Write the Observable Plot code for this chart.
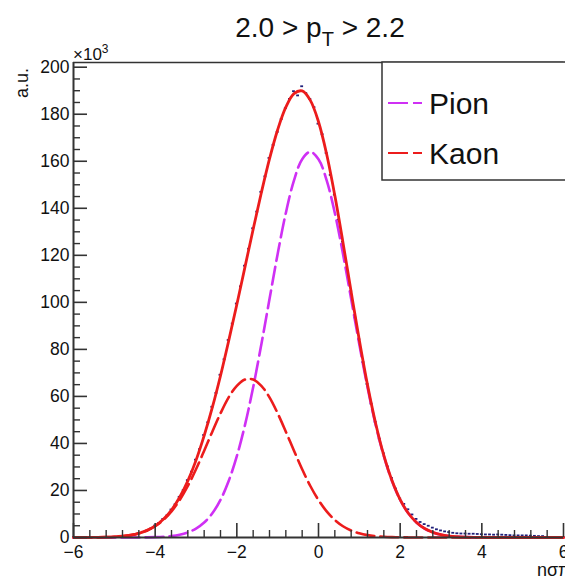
<!DOCTYPE html>
<html><head><meta charset="utf-8">
<script src="https://cdn.jsdelivr.net/npm/d3@7"></script>
<script src="https://cdn.jsdelivr.net/npm/@observablehq/plot@0.6"></script>
<style>html,body{margin:0;padding:0;background:#fff;overflow:hidden} svg{display:block}</style>
</head><body><div id="chart"></div>
<script>
// ---- data (y in units of 10^3) ----
const curveX = [-6.0,-5.8,-5.6,-5.4,-5.2,-5.0,-4.8,-4.6,-4.4,-4.2,-4.0,-3.8,-3.6,-3.4,-3.2,-3.0,-2.8,-2.6,-2.4,-2.2,-2.0,-1.8,-1.6,-1.4,-1.2,-1.0,-0.8,-0.6,-0.4,-0.2,0.0,0.2,0.4,0.6,0.8,1.0,1.2,1.4,1.6,1.8,2.0,2.2,2.4,2.6,2.8,3.0,3.2,3.4,3.6,3.8,4.0,4.2,4.4,4.6,4.8,5.0,5.2,5.4,5.6,5.8,6.0];
const pionY = [0,0,0,0,0,0,0.01,0.01,0.02,0.07,0.16,0.32,0.63,1.2,2.17,3.79,6.37,10.3,16.0,24.0,34.6,47.9,63.9,82.1,101.4,120.6,138.0,151.9,160.9,164.0,160.9,151.9,138.0,120.6,101.4,82.1,63.9,47.9,34.6,24.0,16.0,10.3,6.37,3.79,2.17,1.2,0.63,0.32,0.16,0.07,0.02,0.01,0,0,0,0,0,0,0,0,0];
const kaonY = [0.01,0.02,0.03,0.07,0.15,0.29,0.55,1.01,1.76,2.96,4.79,7.44,11.1,15.9,21.9,29.0,36.9,45.0,52.8,59.6,64.5,67.2,67.2,64.5,59.6,52.8,45.0,36.9,29.0,21.9,15.9,11.1,7.44,4.79,2.96,1.76,1.01,0.55,0.29,0.15,0.07,0.03,0.02,0.01,0,0,0,0,0,0,0,0,0,0,0,0,0,0,0,0,0];
const totalY = [0.01,0.02,0.03,0.07,0.15,0.29,0.56,1.02,1.78,3.03,4.95,7.76,11.7,17.1,24.1,32.8,43.3,55.3,68.8,83.6,99.1,115.1,131.1,146.6,161.0,173.4,183.0,188.8,189.9,185.9,176.8,163.0,145.4,125.4,104.4,83.9,64.9,48.5,34.9,24.2,16.1,10.3,6.4,3.8,2.2,1.2,0.63,0.32,0.16,0.07,0.02,0.01,0,0,0,0,0,0,0,0,0];
const dataX = [-5.0,-4.9,-4.8,-4.7,-4.6,-4.5,-4.4,-4.3,-4.2,-4.1,-4.0,-3.9,-3.8,-3.7,-3.6,-3.5,-3.4,-3.3,-3.2,-3.1,-3.0,-2.9,-2.8,-2.7,-2.6,-2.5,-2.4,-2.3,-2.2,-2.1,-2.0,-1.9,-1.8,-1.7,-1.6,-1.5,-1.4,-1.3,-1.2,-1.1,-1.0,-0.9,-0.8,-0.7,-0.6,-0.5,-0.4,-0.3,-0.2,-0.1,0.0,0.1,0.2,0.3,0.4,0.5,0.6,0.7,0.8,0.9,1.0,1.1,1.2,1.3,1.4,1.5,1.6,1.7,1.8,1.9,2.0,2.1,2.2,2.3,2.4,2.5,2.6,2.7,2.8,2.9,3.0,3.1,3.2,3.3,3.4,3.5,3.6,3.7,3.8,3.9,4.0,4.1,4.2,4.3,4.4,4.5,4.6,4.7,4.8,4.9,5.0,5.1,5.2,5.3,5.4,5.5];
const dataY = [0.3,0.4,0.6,0.7,1.1,1.3,1.9,2.4,2.9,3.8,5.1,6.2,7.9,9.4,11.9,14.1,17.3,20.2,24.4,28.0,33.1,37.6,43.6,49.0,55.6,61.5,69.2,75.8,84.0,91.0,99.5,106.8,115.6,122.8,131.5,138.6,147.0,153.6,161.4,167.0,172.5,178.0,182.6,186.5,189.8,188.0,191.9,189.0,186.5,183.0,176.0,171.5,163.5,154.2,145.8,135.2,125.8,114.6,104.8,93.6,84.3,74.6,65.3,56.9,49.2,42.0,35.8,30.2,25.3,20.8,16.6,14.3,12.0,9.8,7.9,6.6,5.7,5.0,4.2,3.5,3.0,2.6,2.3,2.0,1.8,1.7,1.7,1.6,1.6,1.5,1.4,1.3,1.3,1.2,1.3,1.2,1.1,1.0,0.9,0.9,0.9,0.9,0.8,0.7,0.6,0.6];
const xMajorTicks = [-6,-4,-2,0,2,4,6];
const xMinorTicks = [-5.6,-5.2,-4.8,-4.4,-3.6,-3.2,-2.8,-2.4,-1.6,-1.2,-0.8,-0.4,0.4,0.8,1.2,1.6,2.4,2.8,3.2,3.6,4.4,4.8,5.2,5.6];
const yMajorTicks = [0,20,40,60,80,100,120,140,160,180,200];
const yMinorTicks = [5,10,15,25,30,35,45,50,55,65,70,75,85,90,95,105,110,115,125,130,135,145,150,155,165,170,175,185,190,195];
const legendLabels = ["Pion","Kaon"];
const titleParts = ["2.0 > p","T"," > 2.2"];
const yTitle = "a.u.";
const xTitle = "nσπ";

// ---- style ----
const FONT = "'Liberation Sans', Arial, Helvetica, sans-serif";
const pionColor = "#cf30f4";
const redColor = "#ec1c1c";
const dataColor = "#20207a";
const axisColor = "#333333";
const W = 565, H = 578, mL = 73, mR = 2, mT = 62, mB = 41;

const curveRows = curveX.map((x, i) => ({x, pion: pionY[i], kaon: kaonY[i], total: totalY[i]}));
const dataRows = dataX.map((x, i) => ({x, y: dataY[i]}));
const fmt = d => (d < 0 ? "\u2212" + Math.abs(d) : String(d));

const plot = Plot.plot({
  width: W, height: H,
  marginLeft: mL, marginRight: mR, marginTop: mT, marginBottom: mB,
  x: {domain: [-6, 6], label: null},
  y: {domain: [0, 202], label: null},
  style: {fontFamily: FONT, background: "white", color: "#111"},
  marks: [
    Plot.ruleY(dataRows, {y: "y", x1: d => d.x - 0.035, x2: d => d.x + 0.035, stroke: dataColor, strokeWidth: 1.8}),
    Plot.line(curveRows, {x: "x", y: "pion", stroke: pionColor, strokeWidth: 2.6, strokeDasharray: "18,6", curve: "catmull-rom"}),
    Plot.line(curveRows, {x: "x", y: "kaon", stroke: redColor, strokeWidth: 2.6, strokeDasharray: "18,6", curve: "catmull-rom"}),
    Plot.line(curveRows, {x: "x", y: "total", stroke: redColor, strokeWidth: 2.8, curve: "catmull-rom"}),
    // axes
    Plot.axisX({ticks: xMinorTicks, tickSize: -7, fill: "none", stroke: axisColor, strokeWidth: 1.4, label: null}),
    Plot.axisX({ticks: xMajorTicks, tickSize: -14, fill: "none", stroke: axisColor, strokeWidth: 1.6, label: null}),
    Plot.axisX({ticks: xMajorTicks, tickSize: 0, tickPadding: 8, tickFormat: fmt, fontSize: 17.5, fill: "#111", label: null}),
    Plot.axisY({ticks: yMinorTicks, tickSize: -7, fill: "none", stroke: axisColor, strokeWidth: 1.4, label: null}),
    Plot.axisY({ticks: yMajorTicks, tickSize: -14, fill: "none", stroke: axisColor, strokeWidth: 1.6, label: null}),
    Plot.axisY({ticks: yMajorTicks, tickSize: 0, tickPadding: 4, tickFormat: fmt, fontSize: 17.5, fill: "#111", label: null}),
    Plot.ruleX([-6], {stroke: axisColor, strokeWidth: 2}),
    Plot.ruleY([0], {stroke: axisColor, strokeWidth: 2}),
    Plot.ruleY([202], {stroke: axisColor, strokeWidth: 1.5})
  ]
});

document.getElementById("chart").appendChild(plot);
const svg = d3.select(plot);

// title
const t = svg.append("text").attr("x", 320).attr("y", 37).attr("text-anchor", "middle")
  .attr("font-family", FONT).attr("font-size", 28).attr("fill", "#111");
t.append("tspan").text(titleParts[0]);
t.append("tspan").attr("dy", 9).attr("font-size", 20).text(titleParts[1]);
t.append("tspan").attr("dy", -9).text(titleParts[2]);

// x10^3 multiplier
const m = svg.append("text").attr("x", 73).attr("y", 60).attr("text-anchor", "start")
  .attr("font-family", FONT).attr("font-size", 17).attr("fill", "#111");
m.append("tspan").text("\u00d710");
m.append("tspan").attr("dy", -7).attr("font-size", 12).text("3");

// y title
svg.append("text").attr("transform", "translate(28,68) rotate(-90)").attr("text-anchor", "end")
  .attr("font-family", FONT).attr("font-size", 18).attr("fill", "#111").text(yTitle);

// x title (cut by the edge as in the reference)
svg.append("text").attr("x", 537).attr("y", 576).attr("text-anchor", "start")
  .attr("font-family", FONT).attr("font-size", 18).attr("fill", "#111").text(xTitle);

// legend
const lg = svg.append("g");
lg.append("rect").attr("x", 382).attr("y", 62).attr("width", 200).attr("height", 118)
  .attr("fill", "white").attr("stroke", axisColor).attr("stroke-width", 1.5);
const legendColors = [pionColor, redColor];
const legendY = [114, 164];
legendLabels.forEach((lab, i) => {
  lg.append("line").attr("x1", 388).attr("x2", 422).attr("y1", legendY[i] - 11).attr("y2", legendY[i] - 11)
    .attr("stroke", legendColors[i]).attr("stroke-width", 2).attr("stroke-dasharray", "20,5");
  lg.append("text").attr("x", 429).attr("y", legendY[i]).attr("text-anchor", "start")
    .attr("font-family", FONT).attr("font-size", 30).attr("fill", "#111").text(lab);
});
</script>
</body></html>
